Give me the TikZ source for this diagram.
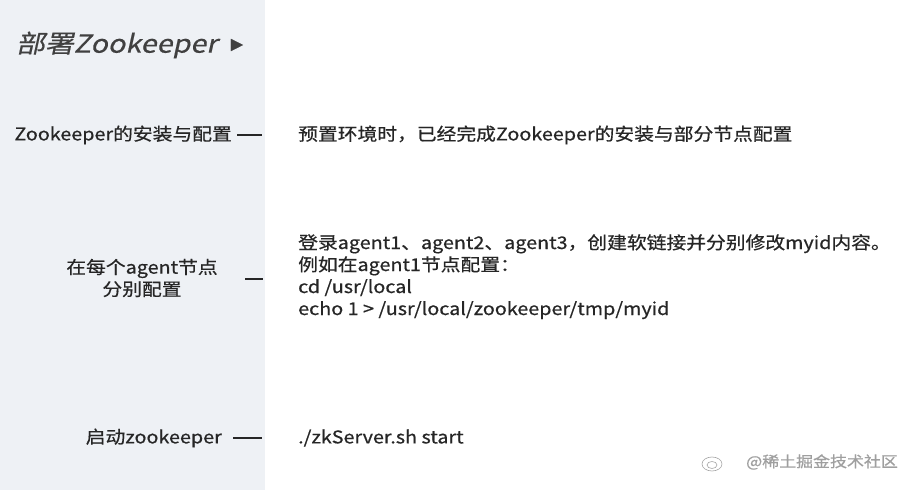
\documentclass[tikz,border=0pt]{standalone}
\usepackage{fontspec}
\setmainfont[FakeStretch=1.13,FakeBold=0.6]{Noto Sans CJK SC}
\newfontfamily\slantfont[FakeStretch=1.15,FakeSlant=0.22,FakeBold=0.4]{Noto Sans CJK SC}
\definecolor{panel}{HTML}{EEF1F5}
\begin{document}
\begin{tikzpicture}[x=1pt,y=1pt,
  lab/.style={inner sep=0pt,font=\fontsize{17.5}{22}\selectfont,text=black!85},
  dashline/.style={line width=2.2pt,black!85}]
\useasboundingbox (0,0) rectangle (924,490);
\fill[white] (0,0) rectangle (924,490);
\fill[panel] (0,0) rectangle (265,490);
\node[lab,anchor=west,font=\slantfont\fontsize{25}{28}\selectfont,text=black!75] (title) at (16,445) {部署Zookeeper};
\node[lab,anchor=west,text=black!75,font=\fontsize{13}{14}\selectfont] (tri) at (229,445) {▶};
% left labels
\node[lab,anchor=east] (l1) at (232,355) {Zookeeper的安装与配置};
\coordinate (d1a) at (237,355); \coordinate (d1b) at (262,355);
\draw[dashline] (d1a) -- (d1b);
\node[lab,align=center] (l2) at (142,212) {在每个agent节点\\分别配置};
\coordinate (d2a) at (245,211); \coordinate (d2b) at (263,211);
\draw[dashline] (d2a) -- (d2b);
\node[lab,anchor=east] (l3) at (222,52) {启动zookeeper};
\coordinate (d3a) at (233,52); \coordinate (d3b) at (262,52);
\draw[dashline] (d3a) -- (d3b);
% right texts
\node[lab,anchor=west] (r1) at (298,355) {预置环境时，已经完成Zookeeper的安装与部分节点配置};
\node[lab,anchor=north west,align=left,font=\fontsize{17.5}{22}\selectfont] (r2) at (298,256) {登录agent1、agent2、agent3，创建软链接并分别修改myid内容。\\例如在agent1节点配置：\\cd /usr/local\\echo 1 > /usr/local/zookeeper/tmp/myid};
\node[lab,anchor=west] (r3) at (298,52) {./zkServer.sh start};
% watermark
\draw[gray!70,line width=0.6pt] (712,26) ellipse (10 and 7);
\draw[gray!70,line width=0.6pt] (712,25) ellipse (5 and 3.5);
\node[lab,anchor=west,text=gray!75,font=\fontsize{15}{16}\selectfont] (wm) at (746,28) {@稀土掘金技术社区};
\end{tikzpicture}
\end{document}
